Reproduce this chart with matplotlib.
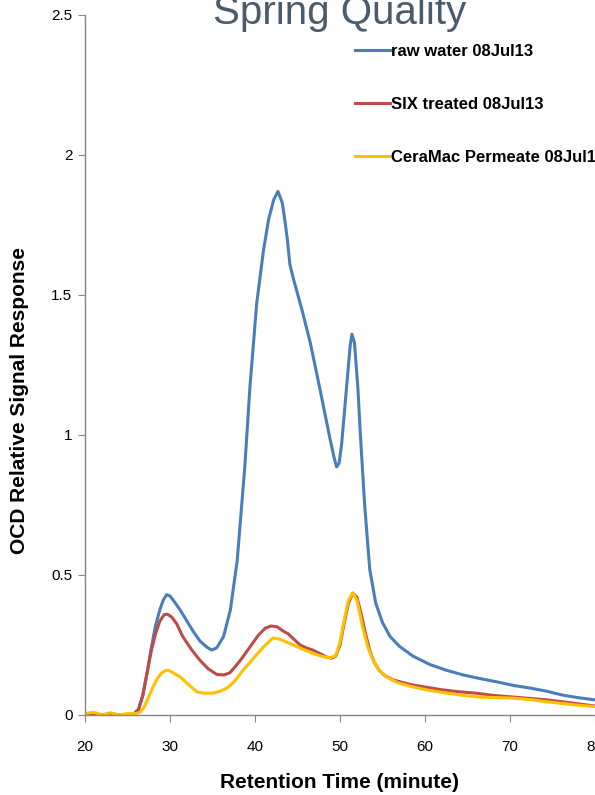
# Spring Quality - OCD chromatogram, three traces
import matplotlib.pyplot as plt

plt.rcParams['font.family'] = ['Liberation Sans', 'DejaVu Sans']

title = "Spring Quality"
series_labels = ["raw water 08Jul13", "SIX treated 08Jul13", "CeraMac Permeate 08Jul13"]
colors = ["#4A7EBB", "#BE4B48", "#FFC000"]

raw_x = [20, 21, 22, 23, 24, 25, 25.8, 26.3, 26.8, 27.3, 27.8, 28.3, 28.8, 29.2, 29.6, 30.0,
         30.5, 31.2, 32.0, 32.7, 33.5, 34.3, 34.9, 35.5, 36.3, 37.1, 37.9, 38.8, 39.4, 40.2,
         41.0, 41.6, 42.2, 42.7, 43.2, 43.5, 43.8, 44.1, 44.5, 45.5, 46.5, 47.6, 48.8, 49.3,
         49.6, 49.9, 50.2, 50.8, 51.2, 51.4, 51.7, 52.1, 52.4, 52.9, 53.5, 54.2, 55.0, 55.9,
         57.0, 58.6, 60.6, 62.5, 64.5, 66.5, 68.5, 70.5, 72.4, 74.3, 76.2, 78.0, 80.0]
raw_y = [0, 0.005, 0.0, 0.005, 0.0, 0.0, 0.005, 0.02, 0.07, 0.15, 0.24, 0.32, 0.375, 0.41, 0.43, 0.425,
         0.405, 0.375, 0.335, 0.30, 0.265, 0.243, 0.232, 0.24, 0.28, 0.375, 0.55, 0.886, 1.17, 1.47,
         1.66, 1.77, 1.84, 1.87, 1.83, 1.77, 1.70, 1.61, 1.56, 1.45, 1.33, 1.17, 0.99, 0.92,
         0.886, 0.90, 0.97, 1.18, 1.32, 1.36, 1.33, 1.17, 1.00, 0.75, 0.52, 0.40, 0.33, 0.28,
         0.245, 0.21, 0.18, 0.16, 0.143, 0.13, 0.118, 0.105, 0.096, 0.085, 0.071, 0.062, 0.054]

six_x = [20, 21, 22, 23, 24, 25, 25.8, 26.3, 26.8, 27.3, 27.8, 28.3, 28.8, 29.3, 29.7, 30.2,
         30.8, 31.5, 32.5, 33.5, 34.5, 35.5, 36.3, 37.0, 37.6, 38.4, 39.4, 40.4, 41.2, 41.9,
         42.6, 43.3, 43.9, 44.6, 45.3, 46.0, 46.8, 47.6, 48.4, 49.0, 49.5, 50.0, 50.5, 51.0,
         51.5, 52.0, 52.5, 53.0, 53.5, 54.0, 54.6, 55.3, 56.3, 57.5, 58.6, 60.0, 62.0, 64.0,
         66.0, 68.0, 70.0, 72.0, 74.0, 76.0, 78.0, 80.0]
six_y = [0.0, 0.005, 0.0, 0.005, 0.0, 0.0, 0.005, 0.02, 0.07, 0.15, 0.23, 0.29, 0.335, 0.358, 0.36, 0.35,
         0.325, 0.28, 0.235, 0.196, 0.165, 0.145, 0.143, 0.15, 0.17, 0.2, 0.243, 0.285, 0.31, 0.318,
         0.315, 0.30, 0.29, 0.27, 0.25, 0.24, 0.232, 0.22, 0.207, 0.203, 0.21, 0.25, 0.33, 0.40,
         0.435, 0.42, 0.36, 0.29, 0.23, 0.19, 0.16, 0.14, 0.125, 0.115, 0.107, 0.1, 0.09, 0.083,
         0.078, 0.07, 0.065, 0.06, 0.055, 0.048, 0.04, 0.032]

cera_x = [20, 21, 22, 23, 24, 25, 26.0, 26.5, 27.0, 27.5, 28.0, 28.5, 29.0, 29.4, 29.8, 30.3,
          31.2, 32.2, 33.2, 34.1, 35.1, 35.9, 36.7, 37.6, 38.6, 39.6, 40.6, 41.4, 42.1, 42.8,
          43.6, 44.5, 45.6, 46.8, 47.8, 48.8, 49.5, 50.0, 50.5, 51.0, 51.5, 52.0, 52.7, 53.3,
          53.9, 54.6, 55.5, 56.8, 58.6, 60.5, 62.6, 64.5, 66.5, 68.5, 70.4, 72.4, 74.4, 76.5,
          78.0, 80.0]
cera_y = [0.005, 0.01, 0.0, 0.008, 0.0, 0.005, 0.005, 0.01, 0.03, 0.065, 0.1, 0.13, 0.15, 0.158, 0.16, 0.152,
          0.136, 0.108, 0.082, 0.078, 0.078, 0.085, 0.096, 0.12, 0.16, 0.195, 0.23, 0.255, 0.275, 0.272,
          0.262, 0.25, 0.235, 0.22, 0.21, 0.204, 0.212, 0.26, 0.34, 0.41, 0.436, 0.41, 0.31, 0.24,
          0.196, 0.16, 0.136, 0.115, 0.1, 0.088, 0.078, 0.07, 0.064, 0.062, 0.06, 0.055, 0.047, 0.04,
          0.035, 0.03]

x_ticks = [20, 30, 40, 50, 60, 70, 80]
y_ticks = [0, 0.5, 1, 1.5, 2, 2.5]
y_tick_labels = ["0", "0.5", "1", "1.5", "2", "2.5"]


def main():
    W, H = 595, 795
    fig = plt.figure(figsize=(W / 100, H / 100), dpi=100)
    ax = fig.add_axes([85 / W, 80 / H, 510 / W, 700 / H])

    for xs, ys, c, lab in zip([raw_x, six_x, cera_x], [raw_y, six_y, cera_y], colors, series_labels):
        ax.plot(xs, ys, color=c, lw=2.2, label=lab, solid_joinstyle="round")

    ax.set_xlim(20, 80)
    ax.set_ylim(0, 2.5)
    ax.set_xticks(x_ticks)
    ax.set_yticks(y_ticks)
    ax.set_yticklabels(y_tick_labels)
    for s in ["top", "right"]:
        ax.spines[s].set_visible(False)
    for s in ["left", "bottom"]:
        ax.spines[s].set_color("#868686")
        ax.spines[s].set_linewidth(1.0)
    ax.tick_params(direction="out", length=5, color="#868686", labelsize=11)
    ax.tick_params(axis="x", pad=13)
    ax.tick_params(axis="y", pad=4)

    fig.text(340 / W, 1 - 23.6 / H, title, ha="center", va="baseline",
             fontsize=29, color="#4B5B6B")
    fig.text(20 / W, 1 - 401 / H, "OCD Relative Signal Response", rotation=90,
             ha="center", va="center", fontsize=15, fontweight="bold")
    fig.text(340 / W, 1 - 783 / H, "Retention Time (minute)",
             ha="center", va="center", fontsize=15, fontweight="bold")

    ax.legend(loc="upper left", bbox_to_anchor=(355 / W, 1 - 44 / H),
              bbox_transform=fig.transFigure, frameon=False, handlelength=2.1,
              handletextpad=0.05, labelspacing=2.27, borderpad=0, borderaxespad=0,
              prop=dict(weight="bold", size=12))

    fig.savefig("out.png", dpi=100)


if __name__ == '__main__':
    main()
